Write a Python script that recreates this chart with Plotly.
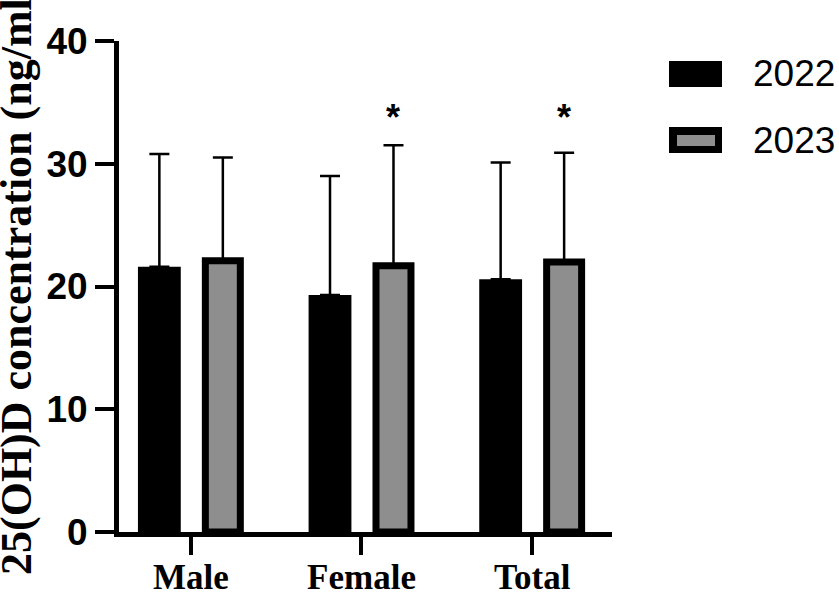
import plotly.graph_objects as go

# values (mean and SD, ng/ml)
groups = ["Male", "Female", "Total"]
years = ["2022", "2023"]
mean_2022 = [21.6, 19.3, 20.6]
sd_2022 = [9.2, 9.7, 9.5]
mean_2023 = [22.1, 21.7, 22.0]
sd_2023 = [8.4, 9.8, 8.9]
signif_2023 = ["", "*", "*"]
yticks = [0, 10, 20, 30, 40]

W_FIG, H_FIG = 839, 592
L, R, T, B = 119, 227, 41, 60
PW = W_FIG - L - R
PH = H_FIG - T - B


def px(x):
    return (x - L) / PW


def py(y):
    return (H_FIG - B - y) / PH


fig = go.Figure()

fig.add_trace(go.Bar(
    x=groups, y=mean_2022, name=years[0],
    width=0.251, offset=-0.31,
    marker=dict(color="black", line=dict(width=0)),
    error_y=dict(type="data", array=sd_2022, arrayminus=[0] * 3, symmetric=False,
                 color="black", thickness=2.5, width=10),
))
fig.add_trace(go.Bar(
    x=groups, y=mean_2023, name=years[1],
    width=0.205, offset=0.085,
    marker=dict(color="#8e8e8e", line=dict(width=7, color="black")),
    error_y=dict(type="data", array=sd_2023, arrayminus=[0] * 3, symmetric=False,
                 color="black", thickness=2.5, width=10),
))

# significance stars above the 2023 bars, all at the same height
for g, star in zip(groups, signif_2023):
    if star:
        fig.add_annotation(x=g, y=33.8, text=star, showarrow=False,
                           xshift=32, yanchor="middle",
                           font=dict(family="Liberation Sans", size=36, color="black",
                                     weight="bold"))

# y axis title
fig.add_annotation(xref="paper", yref="paper", x=0, y=0, xshift=-103, yshift=252,
                   text="25(OH)D concentration (ng/ml)", textangle=-90,
                   showarrow=False, xanchor="center", yanchor="middle",
                   font=dict(family="Liberation Serif", size=44, color="black",
                             weight="bold"))

# legend drawn by hand (big swatches)
fig.add_shape(type="rect", xref="paper", yref="paper",
              x0=px(669), x1=px(722), y0=py(87), y1=py(61),
              fillcolor="black", line=dict(width=0))
fig.add_shape(type="rect", xref="paper", yref="paper",
              x0=px(669), x1=px(722), y0=py(153), y1=py(127),
              fillcolor="black", line=dict(width=0))
fig.add_shape(type="rect", xref="paper", yref="paper",
              x0=px(677), x1=px(715), y0=py(146), y1=py(135),
              fillcolor="#8e8e8e", line=dict(width=0))
for yr, yc in zip(years, [74, 140]):
    fig.add_annotation(xref="paper", yref="paper", x=px(751), y=py(yc),
                       text=yr, showarrow=False, xanchor="left", yanchor="middle",
                       font=dict(family="Liberation Sans", size=37, color="black"))

fig.update_layout(
    width=W_FIG, height=H_FIG,
    margin=dict(l=L, r=R, t=T, b=B),
    plot_bgcolor="white", paper_bgcolor="white",
    showlegend=False,
    barmode="overlay",
)
fig.update_xaxes(
    type="category", range=[-0.421, 2.468], automargin=False,
    showline=True, linewidth=5, linecolor="black",
    ticks="outside", ticklen=18, tickwidth=4, tickcolor="black",
    ticklabelstandoff=-8,
    showgrid=False, zeroline=False,
    tickfont=dict(family="Liberation Serif", size=35, color="black", weight="bold"),
)
fig.update_yaxes(
    range=[0, 40], tickvals=yticks, automargin=False,
    showline=True, linewidth=5, linecolor="black",
    ticks="outside", ticklen=19, tickwidth=4, tickcolor="black",
    showgrid=False, zeroline=False,
    tickfont=dict(family="Liberation Sans", size=37, color="black", weight="bold"),
)

fig.write_html("out.html", config={"displayModeBar": False},
               post_script="document.body.style.margin='0';")
